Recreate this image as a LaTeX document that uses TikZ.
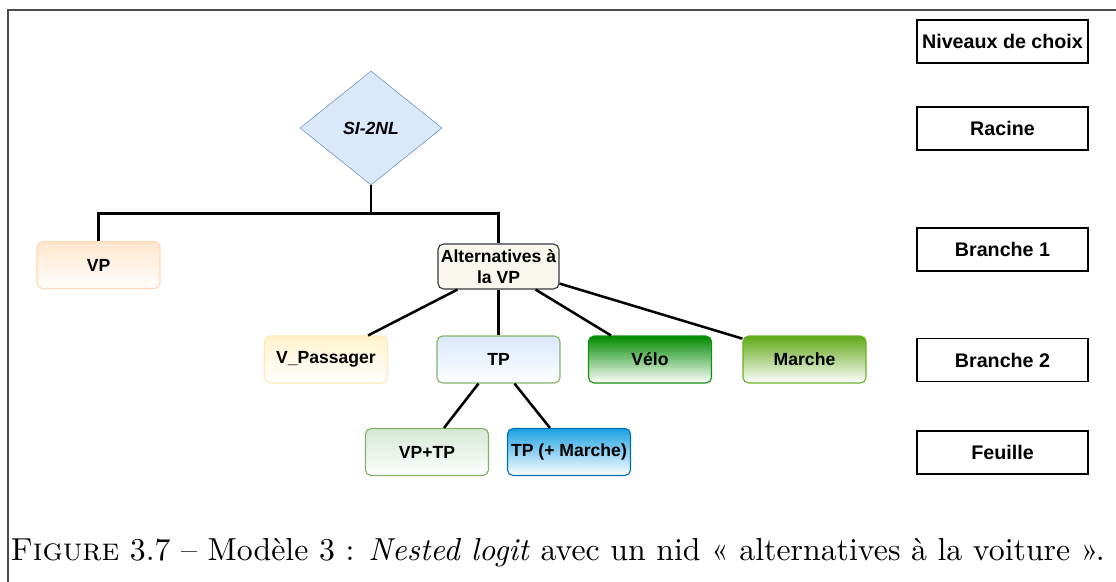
\documentclass[tikz,border=0pt]{standalone}
\usepackage{fontspec}
\usepackage{graphicx}
\newfontfamily\arialfont{Liberation Sans}
\usetikzlibrary{shapes.geometric}

\definecolor{vpfill}{HTML}{FFE6CC}
\definecolor{vpline}{HTML}{FFD9B5}
\definecolor{passfill}{HTML}{FFF2CC}
\definecolor{passline}{HTML}{FFE9B8}
\definecolor{tpfill}{HTML}{DAE8FC}
\definecolor{greenline}{HTML}{82B366}
\definecolor{velofill}{HTML}{008A00}
\definecolor{veloline}{HTML}{13900F}
\definecolor{marchefill}{HTML}{60A917}
\definecolor{marcheline}{HTML}{6CB028}
\definecolor{vptpfill}{HTML}{D5E8D4}
\definecolor{tpmfill}{HTML}{1BA1E2}
\definecolor{tpmline}{HTML}{006EAF}
\definecolor{altfill}{HTML}{F9F7ED}
\definecolor{altline}{HTML}{36393D}
\definecolor{rootfill}{HTML}{DAE8FC}
\definecolor{rootline}{HTML}{6C8EBF}
\definecolor{frameline}{HTML}{4A4A4A}

\begin{document}
\begin{tikzpicture}[x=0.025cm,y=-0.025cm,
            choice/.style 2 args={rectangle,rounded corners=4pt,draw=#2,thick,
                    top color=#1,bottom color=white,inner xsep=1pt,
                    minimum width=3.075cm,minimum height=1.175cm,align=center,
                    font=\arialfont\bfseries\fontsize{12.5}{15}\selectfont},
            levelbox/.style={rectangle,draw=black,thick,fill=white,
                    minimum width=4.275cm,minimum height=1.075cm,align=center,
                    font=\arialfont\bfseries\fontsize{14}{16}\selectfont},
            link/.style={line width=1.8pt},
        ]
        \useasboundingbox (0,0) rectangle (1116,581);

        % Frame
        \draw[frameline,thick] (8,620) -- (8,10) -- (1150,10);

        % Root
        \node[diamond,draw=rootline,fill=rootfill,inner sep=0pt,
              minimum width=3.55cm,minimum height=2.85cm,
              font=\arialfont\bfseries\itshape\fontsize{12.5}{14}\selectfont]
              (root) at (371,128) {SI-2NL};

        % Branch 1
        \node[choice={vpfill}{vpline}] (vp) at (98.5,265) {VP};
        \node[rectangle,rounded corners=4pt,draw=altline,thick,fill=altfill,
              minimum width=3.025cm,minimum height=1.125cm,align=center,
              inner sep=2pt,
              font=\arialfont\bfseries\fontsize{12.5}{15}\selectfont]
              (alt) at (498.5,266.5) {Alternatives à\\la VP};

        % Branch 2
        \node[choice={passfill}{passline}] (vpass) at (326,359.5) {V\_Passager};
        \node[choice={tpfill}{greenline}] (tp) at (498.5,359.5) {TP};
        \node[choice={velofill}{veloline}] (velo) at (650,359.5) {Vélo};
        \node[choice={marchefill}{marcheline}] (marche) at (804.5,359.5) {Marche};

        % Leaves
        \node[choice={vptpfill}{greenline}] (vptp) at (427,452) {VP+TP};
        \node[choice={tpmfill}{tpmline}] (tpm) at (569,452) {TP (+ Marche)};

        % Links
        \draw[link] (root.south) -- ++(0,28) -| (vp.north);
        \draw[link] (root.south) -- ++(0,28) -| (alt.north);
        \draw[link] ([xshift=0.5cm]alt.south west) -- ([xshift=-0.5cm]vpass.north east);
        \draw[link] (alt.south) -- (tp.north);
        \draw[link] ([xshift=-0.6cm]alt.south east) -- ([xshift=0.575cm]velo.north west);
        \draw[link] ([yshift=0.15cm]alt.south east) -- ([yshift=-0.08cm]marche.north west);
        \draw[link] ([xshift=-0.5cm]tp.south) -- ([xshift=0.425cm]vptp.north);
        \draw[link] ([xshift=0.4cm]tp.south) -- ([xshift=-0.475cm]tpm.north);

        % Levels
        \foreach \y/\txt/\name in {41.5/Niveaux de choix/lvlhead,128.5/Racine/lvlroot,
                249.5/Branche 1/lvlone,360/Branche 2/lvltwo,452.5/Feuille/lvlleaf} {
                \node[levelbox] (\name) at (1002.5,\y) {\txt};
            }

        % Caption
        \node[inner sep=0pt] (caption) at (557.5,553)
            {\resizebox{27.35cm}{!}{\textsc{Figure} 3.7 -- Modèle 3 : \textit{Nested logit} avec un nid « alternatives à la voiture ».}};

    \end{tikzpicture}
\end{document}
